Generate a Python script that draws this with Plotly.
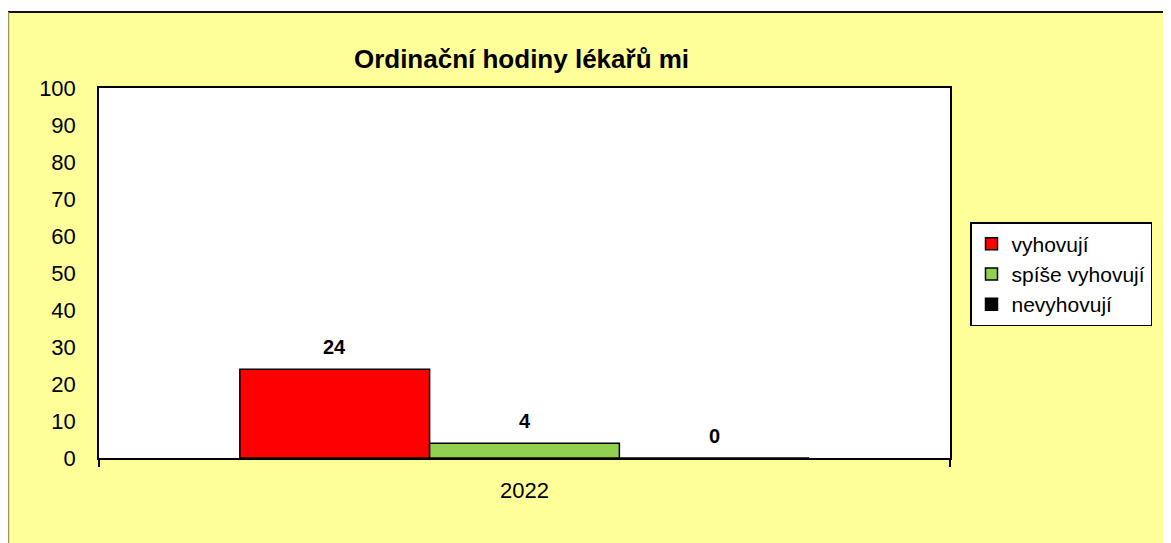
import plotly.graph_objects as go

categories = ["2022"]
series_names = ["vyhovují", "spíše vyhovují", "nevyhovují"]
series_values = [[24], [4], [0]]
series_colors = ["#FF0000", "#92D050", "#000000"]
y_ticks = list(range(0, 101, 10))
title_text = "Ordinační hodiny lékařů mi"

W, H = 1163, 535
ML, MR, MT, MB = 91, 221, 80, 85
PW, PH = W - ML - MR, H - MT - MB
BARGAP = 0.331
FONT = "Liberation Sans, Arial, sans-serif"

fig = go.Figure()
for name, vals, col in zip(series_names, series_values, series_colors):
    fig.add_trace(go.Bar(
        x=categories, y=vals, name=name,
        marker=dict(color=col, line=dict(color="black", width=1.5)),
        cliponaxis=False,
    ))

# value labels above each bar, placed at the bar centres in data units
n = len(series_names)
group_w = 1 - BARGAP
annotations = []
for ci, cat in enumerate(categories):
    for si, vals in enumerate(series_values):
        xc = ci - group_w / 2 + (si + 0.5) * group_w / n
        annotations.append(dict(
            x=xc, y=vals[ci], xref="x", yref="y", text=f"<b>{vals[ci]}</b>",
            showarrow=False, yanchor="middle", yshift=22,
            font=dict(family=FONT, size=20, color="black"),
        ))

def px_to_paper_y(fy):
    return (H - MB - fy) / PH

def px_to_paper_x(fx):
    return (fx - ML) / PW

shapes = [
    dict(type="rect", xref="paper", yref="paper",
         x0=px_to_paper_x(0), x1=px_to_paper_x(W), y0=px_to_paper_y(3), y1=px_to_paper_y(0),
         fillcolor="white", line=dict(width=0), layer="below"),
    dict(type="line", xref="paper", yref="paper",
         x0=px_to_paper_x(0), x1=px_to_paper_x(W), y0=px_to_paper_y(4), y1=px_to_paper_y(4),
         line=dict(color="#111111", width=2)),
    dict(type="line", xref="paper", yref="paper",
         x0=px_to_paper_x(0.5), x1=px_to_paper_x(0.5), y0=px_to_paper_y(H), y1=px_to_paper_y(4),
         line=dict(color="#9a9560", width=1.5)),
]

fig.update_layout(
    width=W, height=H,
    margin=dict(l=ML, r=MR, t=MT, b=MB, autoexpand=False),
    paper_bgcolor="#FFFF99",
    plot_bgcolor="white",
    font=dict(family=FONT, color="black", size=22),
    title=dict(text=f"<b>{title_text}</b>", x=(ML + PW / 2 - 3) / W, xanchor="center",
               y=1 - 51 / H, yanchor="middle",
               font=dict(size=26, family=FONT, color="black")),
    barmode="group",
    bargap=BARGAP,
    bargroupgap=0,
    showlegend=True,
    legend=dict(
        x=px_to_paper_x(962), y=px_to_paper_y(214), xanchor="left", yanchor="top",
        bgcolor="white", bordercolor="black", borderwidth=1.5,
        font=dict(size=21, family=FONT, color="black"),
        traceorder="normal", itemwidth=30,
    ),
    annotations=annotations,
    shapes=shapes,
    xaxis=dict(
        showline=True, linecolor="black", linewidth=2, mirror=True,
        ticks="outside", tickson="boundaries", ticklen=7, tickwidth=1.5, tickcolor="black",
        ticklabelstandoff=12,
        tickfont=dict(size=22), showgrid=False, fixedrange=True,
    ),
    yaxis=dict(
        range=[0, 100], tickvals=y_ticks, ticktext=[str(t) for t in y_ticks],
        showline=True, linecolor="black", linewidth=1.5, mirror=True,
        ticks="outside", ticklen=17, tickcolor="rgba(0,0,0,0)",
        tickfont=dict(size=22), showgrid=False, zeroline=False, fixedrange=True,
    ),
)

fig.write_html("out.html")
